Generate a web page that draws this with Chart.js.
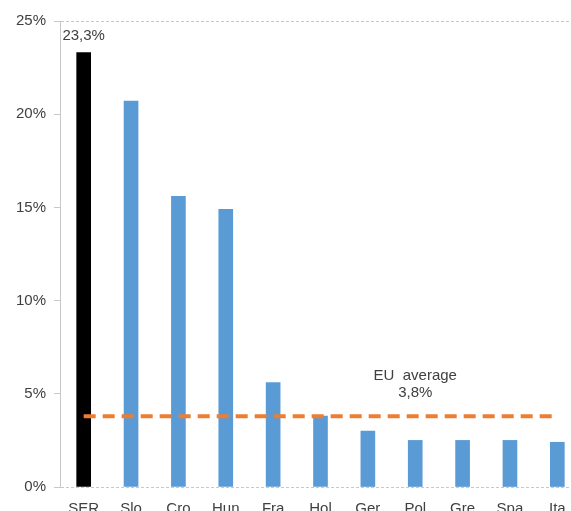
<!DOCTYPE html>
<html>
<head>
<meta charset="utf-8">
<script src="https://cdn.jsdelivr.net/npm/chart.js@4.4.0/dist/chart.umd.min.js"></script>
<style>
html,body{margin:0;padding:0;background:#fff;overflow:hidden;width:571px;height:511px;}
canvas{display:block;}
</style>
</head>
<body>
<canvas id="c" width="590" height="511"></canvas>
<script>
const categories = ['SER','Slo','Cro','Hun','Fra','Hol','Ger','Pol','Gre','Spa','Ita'];
const values = [23.3, 20.7, 15.6, 14.9, 5.6, 3.8, 3.0, 2.5, 2.5, 2.5, 2.4];
const euAverage = 3.8;
const euAverageLine = [3.8, 3.8, 3.8, 3.8, 3.8, 3.8, 3.8, 3.8, 3.8, 3.8, 3.8];
const yTicks = [0, 5, 10, 15, 20, 25];

const fmt = v => v.toFixed(1).replace('.', ',') + '%';
const FONT = 'Liberation Sans, Arial, sans-serif';
const TXT = '#404040';

const labelsPlugin = {
  id: 'labels',
  afterDatasetsDraw(chart) {
    const ctx = chart.ctx;
    const x = chart.scales.x, y = chart.scales.y;
    ctx.save();
    ctx.fillStyle = TXT;
    ctx.font = '15px ' + FONT;
    ctx.textAlign = 'center';
    ctx.textBaseline = 'middle';
    ctx.fillText(fmt(values[0]), x.getPixelForValue(0), y.getPixelForValue(values[0]) - 17);
    const ex = x.getPixelForValue(7);
    const ey = y.getPixelForValue(euAverage);
    ctx.fillText('EU  average', ex, ey - 40);
    ctx.fillText(fmt(euAverage), ex, ey - 23);
    ctx.restore();
  }
};

new Chart(document.getElementById('c'), {
  type: 'bar',
  data: {
    labels: categories,
    datasets: [
      {
        type: 'line',
        data: euAverageLine,
        borderColor: '#ED7D31',
        borderWidth: 4,
        borderDash: [12, 7],
        pointRadius: 0,
        fill: false,
        order: 0
      },
      {
        type: 'bar',
        data: values,
        backgroundColor: categories.map((c, i) => i === 0 ? '#000000' : '#5B9BD5'),
        barThickness: 14,
        order: 1
      }
    ]
  },
  options: {
    responsive: false,
    animation: false,
    events: [],
    layout: { padding: { top: 21, right: 9, left: 0, bottom: 0 } },
    plugins: { legend: { display: false }, tooltip: { enabled: false } },
    scales: {
      x: {
        afterFit(s) { s.height = 24; },
        grid: { display: false },
        border: { display: false },
        ticks: { color: TXT, font: { size: 15, family: FONT }, padding: 5, maxRotation: 0, autoSkip: false }
      },
      y: {
        min: 0, max: 25,
        afterFit(s) { s.width = 60; },
        afterBuildTicks(s) { s.ticks = yTicks.map(v => ({ value: v })); },
        grid: {
          color: ctx => ctx.tick && (ctx.tick.value === 25 || ctx.tick.value === 0) ? '#c8c8c8' : 'rgba(0,0,0,0)',
          tickColor: '#c8c8c8',
          tickLength: 6
        },
        border: { display: true, color: '#c8c8c8', width: 1, dash: [3, 2] },
        ticks: { color: TXT, font: { size: 15, family: FONT }, padding: 8, callback: v => v + '%' }
      }
    }
  },
  plugins: [labelsPlugin]
});
</script>
</body>
</html>
